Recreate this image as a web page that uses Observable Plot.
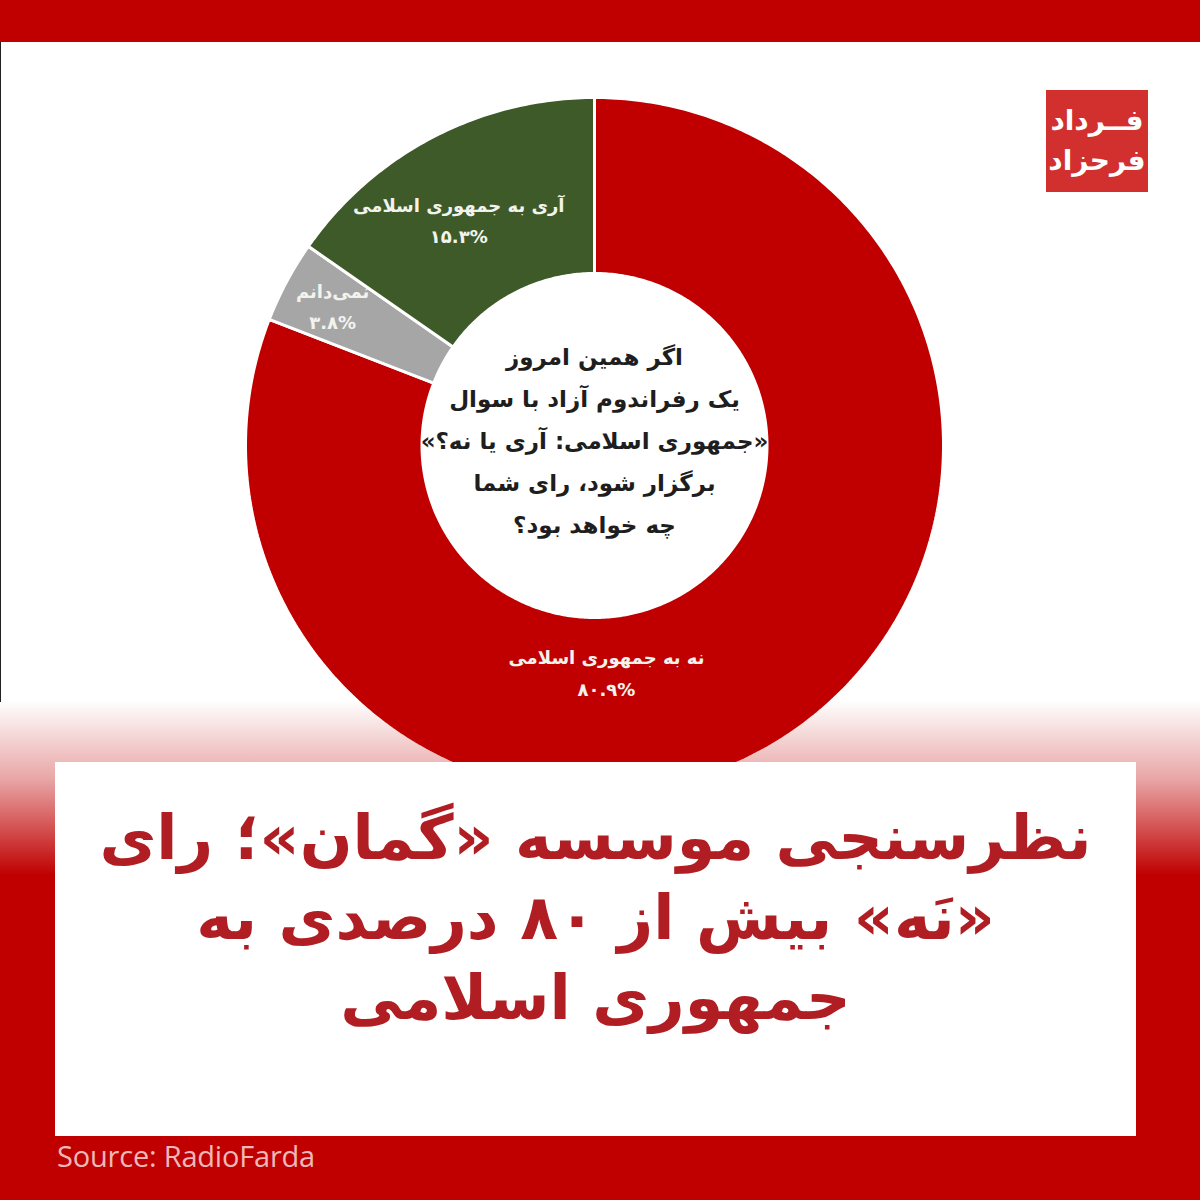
<!DOCTYPE html>
<html lang="fa">
<head>
<meta charset="utf-8">
<script src="https://cdn.jsdelivr.net/npm/d3@7"></script>
<script src="https://cdn.jsdelivr.net/npm/@observablehq/plot@0.6"></script>
<style>
  html, body { margin: 0; padding: 0; background: #ffffff; }
  #page { position: relative; width: 1200px; height: 1200px; overflow: hidden; background: #ffffff; }
  #topbar { position: absolute; left: 0; top: 0; width: 1200px; height: 42px; background: #c00000; }
  #leftline { position: absolute; left: 0; top: 42px; width: 1px; height: 660px; background: #222; }
  #chart { position: absolute; left: 0; top: 0; }
  #fade { position: absolute; left: 0; top: 700px; width: 1200px; height: 175px;
          background: linear-gradient(to bottom, rgba(192,0,0,0) 0%, rgba(192,0,0,0.35) 45%, rgba(192,0,0,1) 100%); }
  #bottom { position: absolute; left: 0; top: 875px; width: 1200px; height: 325px; background: #c00000; }
  #box { position: absolute; left: 55px; top: 762px; width: 1081px; height: 374px; background: #ffffff; }
  #title { position: absolute; left: 55px; top: 798px; width: 1081px; direction: rtl; text-align: center;
           font-family: "DejaVu Sans", sans-serif; font-weight: bold; font-size: 62px; line-height: 80px; color: #b01e23; }
  #source { position: absolute; left: 57px; top: 1136px; font-family: "Open Sans", sans-serif; font-size: 29px;
            color: #edb8b8; letter-spacing: -0.2px; }
  #logo { position: absolute; left: 1046px; top: 90px; width: 102px; height: 102px; background: #d22f2f;
          color: #fff; font-family: "DejaVu Sans", sans-serif; font-weight: bold; font-size: 28px; line-height: 40px;
          text-align: center; direction: rtl; display: flex; flex-direction: column; justify-content: center; }
</style>
</head>
<body>
<div id="page">
  <div id="topbar"></div>
  <div id="leftline"></div>
  <div id="chart"></div>
  <div id="fade"></div>
  <div id="bottom"></div>
  <div id="box"></div>
  <div id="title">نظرسنجی موسسه «گمان»؛ رای<br>«نَه» بیش از ۸۰ درصدی به<br>جمهوری اسلامی</div>
  <div id="source">Source: RadioFarda</div>
  <div id="logo"><div>فــرداد</div><div>فرحزاد</div></div>
</div>
<script>
// ---- data ----
const categories = ["نه به جمهوری اسلامی", "نمی‌دانم", "آری به جمهوری اسلامی"];
const values = [80.9, 3.8, 15.3];
const valueLabels = ["۸۰.۹%", "۳.۸%", "۱۵.۳%"];
const colors = ["#c00000", "#a6a6a6", "#3e5a28"];
const centerQuestion = "اگر همین امروز\nیک رفراندوم آزاد با سوال\n«جمهوری اسلامی: آری یا نه؟»\nبرگزار شود، رای شما\nچه خواهد بود؟";

// ---- layout (not data) ----
const innerRatio = 172 / 348;
const labelPlacement = [ {angle: 177, radius: 0.655}, {angle: 298, radius: 0.85}, {angle: 329, radius: 0.755} ];

// build slice polygons from values via d3.pie (clockwise from 12 o'clock)
const pie = d3.pie().sort(null).value(d => d.value)(categories.map((c, i) => ({key: c, value: values[i]})));
const pts = [];
pie.forEach(s => {
  const n = Math.max(4, Math.ceil((s.endAngle - s.startAngle) * 80));
  for (let i = 0; i <= n; i++) {
    const a = s.startAngle + (s.endAngle - s.startAngle) * i / n;
    pts.push({key: s.data.key, x: Math.sin(a), y: Math.cos(a)});
  }
  for (let i = n; i >= 0; i--) {
    const a = s.startAngle + (s.endAngle - s.startAngle) * i / n;
    pts.push({key: s.data.key, x: innerRatio * Math.sin(a), y: innerRatio * Math.cos(a)});
  }
});

const labels = pie.map((s, i) => {
  const a = labelPlacement[i].angle * Math.PI / 180;
  const r = labelPlacement[i].radius;
  return {key: s.data.key, text: s.data.key + "\n" + valueLabels[i], x: r * Math.sin(a), y: r * Math.cos(a)};
});

const chart = Plot.plot({
  width: 1200,
  height: 1200,
  marginLeft: 245,
  marginRight: 1200 - 943,
  marginTop: 97,
  marginBottom: 1200 - 793,
  x: {domain: [-1, 1], axis: null},
  y: {domain: [-1, 1], axis: null},
  color: {domain: categories, range: colors},
  style: {background: "transparent", overflow: "visible"},
  marks: [
    Plot.line(pts, {x: "x", y: "y", z: "key", fill: "key", stroke: "#ffffff", strokeWidth: 3, curve: "linear-closed", strokeLinejoin: "miter"}),
    Plot.text(labels, {x: "x", y: "y", text: "text", fill: "#f3f3ee", fontSize: 18, fontWeight: "bold",
      fontFamily: "DejaVu Sans", lineHeight: 1.75, textAnchor: "middle", dy: -3}),
    Plot.text([centerQuestion], {x: 0, y: 0, text: d => d, fill: "#1e1e1e", fontSize: 23, fontWeight: "bold",
      fontFamily: "DejaVu Sans", lineHeight: 1.82, textAnchor: "middle", dy: -10})
  ]
});
chart.setAttribute("direction", "rtl");
document.getElementById("chart").appendChild(chart);
</script>
</body>
</html>
